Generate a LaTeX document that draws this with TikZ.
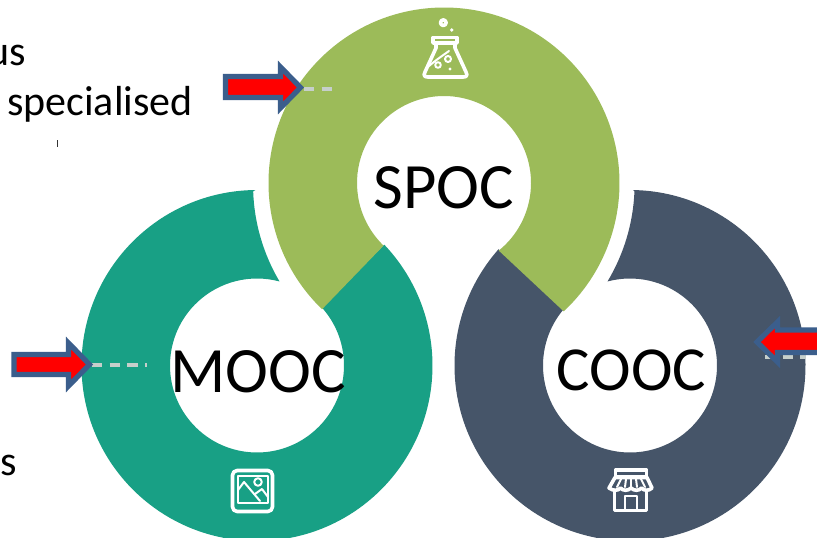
\documentclass[tikz,border=0pt]{standalone}
\usepackage{fontspec}
\setmainfont{Carlito}
\definecolor{ringgreen}{HTML}{9CBB59}
\definecolor{ringteal}{HTML}{18A085}
\definecolor{ringnavy}{HTML}{465569}
\definecolor{arrowblue}{HTML}{3B5E8C}
\definecolor{leader}{HTML}{C6CFCB}
\tikzset{
  ringfill/.style={fill=#1,draw=none},
  bigtext/.style={anchor=base,inner sep=0pt,text=black,font=\fontsize{48.5}{50}\selectfont},
  bodytext/.style={anchor=base east,inner sep=0pt,text=black,font=\fontsize{31.5}{33}\selectfont},
  blockarrow/.style={draw=arrowblue,fill=red,line width=3.9pt,line join=miter,miter limit=10},
  leaderline/.style={draw=leader,line width=3pt,dash pattern=on 7.8pt off 5.4pt},
  iconline/.style={draw=white,line width=2.7pt,line join=round,line cap=round},
  iconthin/.style={draw=white,line width=1.5pt,line join=round,line cap=round},
}
\begin{document}
\begin{tikzpicture}[x=0.75pt,y=0.75pt]
\useasboundingbox (0,0) rectangle (817,537);
\clip (0,0) rectangle (817,537);
\fill[white] (0,0) rectangle (817,537);
\coordinate (M) at (257,171.5);
\coordinate (S) at (444,354);
\coordinate (C) at (630,171.5);
% MOOC ring
\path[ringfill=ringteal] ([shift={(90.5:175.5)}]M) arc[start angle=90.5,end angle=403.5,radius=175.5]
  -- ([shift={(43:87)}]M) arc[start angle=43,end angle=-285,radius=87]
  arc[start angle=210.6,end angle=182,radius=190] -- cycle;
% COOC ring
\path[ringfill=ringnavy] ([shift={(89:175.5)}]C) arc[start angle=89,end angle=-221.5,radius=175.5]
  -- ([shift={(139.5:87)}]C) arc[start angle=139.5,end angle=465,radius=87]
  arc[start angle=-31,end angle=-2.3,radius=190] -- cycle;
% SPOC ring
\path[ringfill=ringgreen] ([shift={(226:175.5)}]S) arc[start angle=226,end angle=-47,radius=175.5]
  -- ([shift={(-51:87)}]S) arc[start angle=-51,end angle=226,radius=87] -- cycle;
% everything else in image coordinates
\begin{scope}[shift={(0,537)},yscale=-1]
  % leaders
  \coordinate (la) at (304,89); \coordinate (lb) at (333,89);
  \coordinate (lc) at (92,365); \coordinate (ld) at (147,365);
  \coordinate (le) at (806,357); \coordinate (lf) at (765,357);
  \draw[leaderline] (la) -- (lb);
  \draw[leaderline] (lc) -- (ld);
  \draw[leaderline] (lf) -- (le);
  % arrows
  \draw[blockarrow] (225.5,76.5) -- (280.5,76.5) -- (280.5,67) -- (300.5,87.5) -- (280.5,108) -- (280.5,97.5) -- (225.5,97.5) -- cycle;
  \draw[blockarrow] (14,354.5) -- (68.5,354.5) -- (68.5,343) -- (89.5,364.5) -- (68.5,386) -- (68.5,374.5) -- (14,374.5) -- cycle;
  \draw[blockarrow] (830,330) -- (777.5,330) -- (777.5,322) -- (757,342) -- (777.5,362) -- (777.5,352.5) -- (830,352.5) -- cycle;
  % flask icon
  \draw[iconline] (443.3,22.7) circle (2.8);
  \fill[white] (451.7,30) circle (1.8);
  \draw[iconline] (433,37.5) -- (457,37.5) -- (457,43) -- (433,43) -- cycle;
  \draw[iconline] (436,43) -- (436,48) -- (425,72) .. controls (423,76) and (425,77) .. (428,77) -- (463,77) .. controls (466,77) and (468,76) .. (466,72) -- (455,48) -- (455,43);
  \draw[iconthin] (429,66) .. controls (436,60) and (442,56) .. (449,51);
  \draw[iconthin] (438,65) circle (2.8);
  \draw[iconthin] (448,59) circle (3);
  \fill[white] (450,69) circle (1.7);
  % picture icon
  \draw[iconline,rounded corners=3.5pt] (232.5,470.5) rectangle (272.5,511.5);
  \draw[iconthin] (237.5,475.5) rectangle (268,503);
  \draw[iconthin] (258,482) circle (3.8);
  \draw[iconthin] (238,490) -- (244,482) -- (260,501);
  \draw[iconthin] (255,494) -- (262,489) -- (268,497);
  % shop icon
  \draw[iconline] (615.5,470) rectangle (646.5,477);
  \draw[iconline] (615,477.5) -- (647,477.5) -- (652,488) .. controls (649,491) and (644,491) .. (641.5,488) .. controls (639,491) and (634,491) .. (631,488) .. controls (628,491) and (623,491) .. (620.5,488) .. controls (618,491) and (613,491) .. (609,488) -- cycle;
  \draw[iconthin] (621,479) -- (617,487);
  \draw[iconthin] (626,479) -- (625,487);
  \draw[iconthin] (631,479) -- (631,487);
  \draw[iconthin] (636,479) -- (637,487);
  \draw[iconthin] (641,479) -- (645,487);
  \draw[iconline] (614.5,491) -- (614.5,510.5) -- (646.5,510.5) -- (646.5,491);
  \draw[iconthin] (624.5,510) -- (624.5,495.5) -- (637,495.5) -- (637,510);
  % stray tick
  \draw[black!80,line width=0.5pt] (57,140) -- (57,147);
  % texts
  \node[bigtext] (spoc) at (444,208) {SPOC};
  \node[bigtext] (mooc) at (258,392) {MOOC};
  \node[bigtext,font=\fontsize{47}{50}\selectfont] (cooc) at (631.5,390) {COOC};
  \node[bodytext] (us) at (26,65) {us};
  \node[bodytext] (spec) at (193,115) {specialised};
  \node[bodytext] (s) at (17,475) {s};
\end{scope}
\end{tikzpicture}
\end{document}
